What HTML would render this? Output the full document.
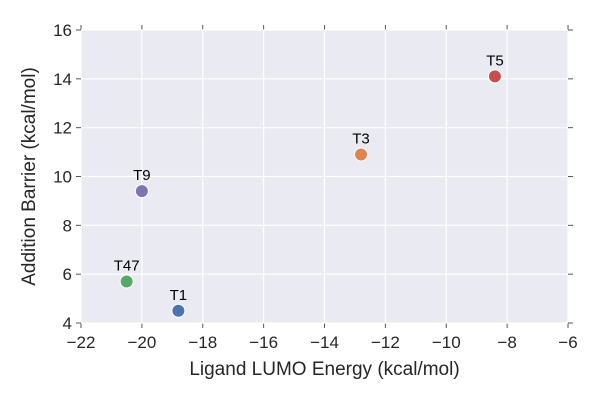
<!DOCTYPE html>
<html><head><meta charset="utf-8"><style>
body{margin:0;background:#fff;}
svg{display:block;font-family:"Liberation Sans",Arial,sans-serif;}
</style></head><body>
<svg id="chart" width="600" height="400"></svg>
<script>
const labels=["T1","T47","T9","T3","T5"];
const xVals=[-18.8,-20.5,-20.0,-12.8,-8.4];
const yVals=[4.5,5.7,9.4,10.9,14.1];
const colors=["#4c72b0","#55a868","#8172b2","#dd8452","#c44e52"];
const xTicks=[-22,-20,-18,-16,-14,-12,-10,-8,-6];
const yTicks=[4,6,8,10,12,14,16];
const L=81,R=568,T=30,B=323;
const sx=v=>L+(v+22)/16*(R-L);
const sy=v=>B-(v-4)/12*(B-T);
const svg=document.getElementById('chart');
const NS='http://www.w3.org/2000/svg';
function mk(tag,attrs,parent){const e=document.createElementNS(NS,tag);for(const k in attrs)e.setAttribute(k,attrs[k]);(parent||svg).appendChild(e);return e;}
const bg=mk('rect',{x:L,y:T,width:R-L,height:B-T,fill:'#eaeaf2'});


xTicks.forEach(t=>{
  const x=sx(t);
  const g=mk('line',{x1:x,x2:x,y1:T,y2:B,stroke:'#fff','stroke-width':1.2});
  
  
  mk('line',{x1:x,x2:x,y1:B,y2:B+5,stroke:'#555','stroke-width':1});
  mk('line',{x1:x,x2:x,y1:T,y2:T-5,stroke:'#555','stroke-width':1});
  const tx=mk('text',{x:x,y:B+25,'text-anchor':'middle','font-size':17,fill:'#262626'});
  tx.textContent=(t<0?'\u2212'+Math.abs(t):t);
  
  
});
yTicks.forEach(t=>{
  const y=sy(t);
  const g=mk('line',{x1:L,x2:R,y1:y,y2:y,stroke:'#fff','stroke-width':1.2});
  
  
  mk('line',{x1:L,x2:L-5,y1:y,y2:y,stroke:'#555','stroke-width':1});
  mk('line',{x1:R,x2:R+5,y1:y,y2:y,stroke:'#555','stroke-width':1});
  const tx=mk('text',{x:L-9,y:y+6,'text-anchor':'end','font-size':17,fill:'#262626'});
  tx.textContent=t;
  
  
});
labels.forEach((lab,i)=>{
  const cx=sx(xVals[i]),cy=sy(yVals[i]);
  const c=mk('circle',{cx:cx,cy:cy,r:6.5,fill:colors[i],stroke:'#fff','stroke-width':1});
  
  
  const t=mk('text',{x:cx,y:cy-11,'text-anchor':'middle','font-size':15,fill:'#000'});
  t.textContent=lab;
  
  
});
const xt=mk('text',{x:(L+R)/2,y:375,'text-anchor':'middle','font-size':19,fill:'#262626'});
xt.textContent='Ligand LUMO Energy (kcal/mol)';


const yt=mk('text',{x:0,y:0,'text-anchor':'middle','font-size':19,fill:'#262626',transform:`translate(35,${(T+B)/2}) rotate(-90)`});
yt.textContent='Addition Barrier (kcal/mol)';


</script>
</body></html>
